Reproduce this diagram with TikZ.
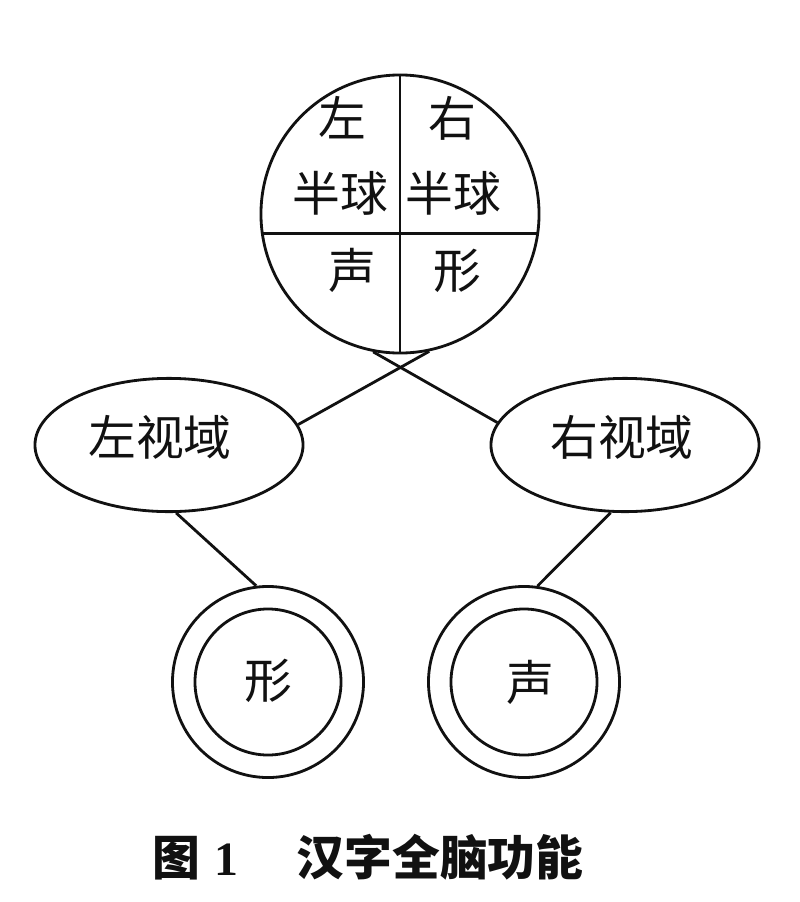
\documentclass[tikz,border=0pt]{standalone}
\usepackage{fontspec}
\setmainfont{Liberation Serif}
\newfontfamily\cjk{Noto Sans CJK SC}
\usetikzlibrary{shapes.geometric,positioning}
\definecolor{FigInk}{HTML}{111111}
\definecolor{FigPaper}{HTML}{FFFFFF}
\tikzset{
  every node/.style={font=\cjk\fontsize{34}{34}\selectfont, text=FigInk, inner sep=0pt},
  glyph/.style={text height=1.2em, text depth=0.04em},
  hemi/.style={circle, draw=FigInk, line width=2pt, minimum size=6.95cm},
  field/.style={ellipse, draw=FigInk, line width=2pt, minimum width=6.7cm, minimum height=3.33cm},
  ringout/.style={circle, draw=FigInk, line width=2pt, minimum size=4.775cm},
  ringin/.style={circle, draw=FigInk, line width=2pt, minimum size=3.65cm},
  link/.style={draw=FigInk, line width=2pt},
  caption/.style={font=\cjk\bfseries\fontsize{34}{34}\selectfont, glyph},
}

\begin{document}
\begin{tikzpicture}[x=0.025cm,y=-0.025cm]
  \useasboundingbox[fill=FigPaper] (0,0) rectangle (800,902);
  % Brain circle cut into four
  \node[hemi] (brain) at (400,214) {};
  \draw[link] (brain.north) -- (brain.south);
  \draw[link] (brain.188.7) -- (brain.-8.7);
  \node[glyph] (lzuo) at (342,128) {左};
  \node[glyph] (lhalf) at (340,203) {半球};
  \node[glyph] (rzuo) at (452,128) {右};
  \node[glyph] (rhalf) at (453,203) {半球};
  \node[glyph] (lsheng) at (352,280) {声};
  \node[glyph] (rxing) at (457,280) {形};
  % Visual fields
  \node[field] (leftview) at (169,445) {};
  \node[glyph] (leftlabel) at (160,447) {左视域};
  \node[field] (rightview) at (625,445) {};
  \node[glyph] (rightlabel) at (622,447) {右视域};
  % Crossed pathways
  \draw[link] (brain.-78.1) -- (leftview.9.75);
  \draw[link] (brain.-101) -- (rightview.170);
  % Double rings
  \node[ringout] (xingring) at (268,682) {};
  \node[ringin] (xingin) at (268,682) {};
  \node[glyph] (xing) at (268,690) {形};
  \node[ringout] (shengring) at (524,682) {};
  \node[ringin] (shengin) at (524,682) {};
  \node[glyph] (sheng) at (530,692) {声};
  \draw[link] (leftview.-84.9) -- (xingring.97.8);
  \draw[link] (rightview.-102.9) -- (shengring.82.2);
  % Caption
  \node[caption] (capfig) at (176,867) {图};
  \node[caption, font=\rmfamily\bfseries\fontsize{34}{34}\selectfont, right=0.35cm of capfig] (capnum) {1};
  \node[caption] (captext) at (440,867) {汉字全脑功能};
\end{tikzpicture}
\end{document}
